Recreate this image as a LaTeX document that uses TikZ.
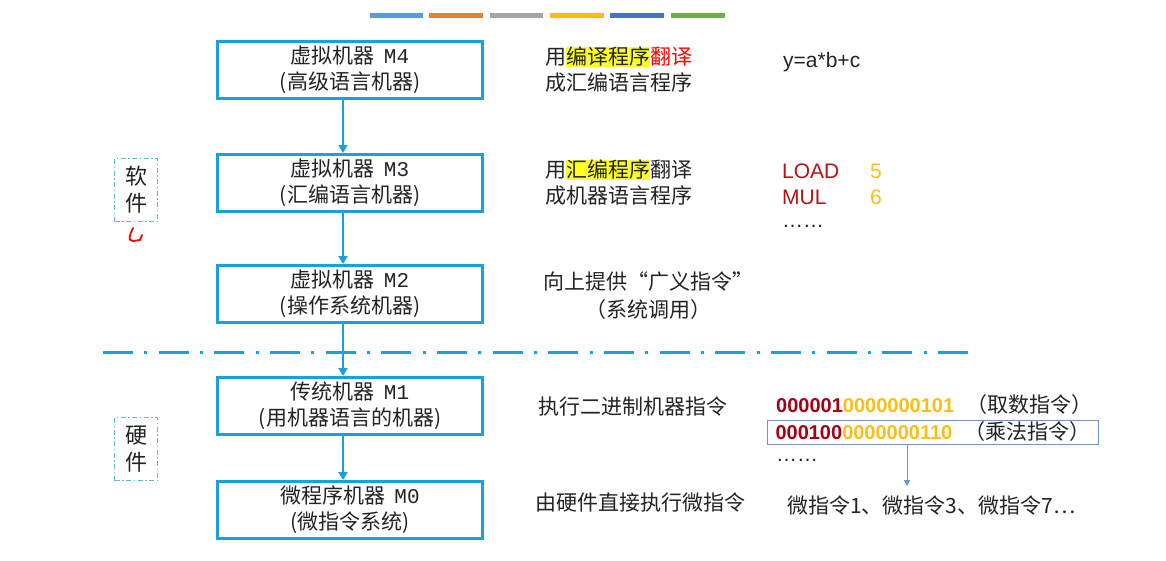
\documentclass[tikz,border=0pt]{standalone}
\usepackage{fontspec}
\usepackage{xcolor}
\usetikzlibrary{arrows.meta}
\setmainfont{Noto Sans CJK SC}
\newfontfamily\arialf{Liberation Sans}
\newfontfamily\monof{Liberation Mono}

\definecolor{boxblue}{RGB}{27,160,222}
\definecolor{sideblue}{RGB}{95,185,220}
\definecolor{framegray}{RGB}{110,150,190}
\definecolor{arrowblue}{RGB}{91,155,213}
\definecolor{darkred}{RGB}{180,20,20}
\definecolor{bitred}{RGB}{165,0,20}
\definecolor{gold}{RGB}{250,190,20}
\definecolor{hlyellow}{RGB}{255,255,40}
\definecolor{txt}{RGB}{35,35,35}
\definecolor{barorange}{RGB}{237,125,49}
\definecolor{bargray}{RGB}{165,165,165}
\definecolor{baryellow}{RGB}{255,192,0}
\definecolor{bardblue}{RGB}{68,114,196}
\definecolor{bargreen}{RGB}{112,173,71}

\newcommand{\hl}[1]{{\setlength{\fboxsep}{0pt}\colorbox{hlyellow}{#1}}}
\newcommand{\bits}[2]{{\fontsize{20}{24}\selectfont\arialf\bfseries\color{bitred}#1\color{gold}#2}}
\newcommand{\mname}[1]{\hspace{9pt}{\monof #1}}

\begin{document}
\begin{tikzpicture}[x=1pt, y=-1pt,
    machine/.style={draw=boxblue, line width=3pt, minimum width=265pt, minimum height=57pt,
      align=center, inner sep=0pt, text=txt, font=\fontsize{21}{26}\selectfont},
    note/.style={inner sep=0pt, text=txt, font=\fontsize{21}{26}\selectfont},
    sidebox/.style={draw=sideblue, line width=1.2pt, dash pattern=on 5pt off 2.5pt on 1.5pt off 2.5pt,
      minimum width=43pt, minimum height=63pt, align=center, inner sep=0pt, text=txt,
      font=\fontsize{22}{27}\selectfont},
    down/.style={draw=boxblue, line width=2.5pt, -{Triangle[width=9pt,length=8pt]}},
    thin arrow/.style={draw=arrowblue, line width=1pt, -{Triangle[width=6pt,length=6pt]}}]
        \useasboundingbox (0,0) rectangle (1166,560);
        % colour bars
        \fill[arrowblue] (370,13) rectangle (423,18);
        \fill[barorange] (429,13) rectangle (483,18);
        \fill[bargray] (490,13) rectangle (543,18);
        \fill[baryellow] (550,13) rectangle (604,18);
        \fill[bardblue] (610,13) rectangle (664,18);
        \fill[bargreen] (671,13) rectangle (725,18);
        % machines
        \node[machine] (m4) at (350,70) {虚拟机器\mname{M4}\\(高级语言机器)};
        \node[machine] (m3) at (350,183) {虚拟机器\mname{M3}\\(汇编语言机器)};
        \node[machine] (m2) at (350,294) {虚拟机器\mname{M2}\\(操作系统机器)};
        \node[machine] (m1) at (350,406) {传统机器\mname{M1}\\(用机器语言的机器)};
        \node[machine] (m0) at (350,510) {微程序机器\mname{M0}\\(微指令系统)};
        \draw[down] ([xshift=-7pt]m4.south) -- ([xshift=-7pt]m3.north);
        \draw[down] ([xshift=-7pt]m3.south) -- ([xshift=-7pt]m2.north);
        \draw[down] ([xshift=-7pt]m2.south) -- ([xshift=-7pt]m1.north);
        \draw[down] ([xshift=-7pt]m1.south) -- ([xshift=-7pt]m0.north);
        % software / hardware
        \draw[boxblue, line width=3pt, dash pattern=on 30pt off 11.33pt on 3pt off 11.33pt] (103,352) -- (968,352);
        \node[sidebox] (soft) at (136,190) {软\\件};
        \node[sidebox] (hard) at (136,449) {硬\\件};
        \draw[red, line width=1.8pt, line cap=round, line join=round]
          (133,228) .. controls (130,234) and (127,241) .. (133,241) -- (140,240) -- (142,235);
        % right column
        \node[note, anchor=west, align=left] (t4) at (545,70) {用\hl{编译程序}{\color{red}翻译}\\成汇编语言程序};
        \node[note, anchor=west, align=left] (t3) at (545,183) {用\hl{汇编程序}翻译\\成机器语言程序};
        \node[note, align=center, font=\fontsize{21}{28}\selectfont] (t2) at (648,296) {向上提供“广义指令”\\（系统调用）};
        \node[note, anchor=west] (t1) at (538,407) {执行二进制机器指令};
        \node[note, anchor=west] (t0) at (535,503) {由硬件直接执行微指令};
        % examples
        \node[note, anchor=west, font=\fontsize{21}{26}\selectfont\arialf] (expr) at (783,62) {y=a*b+c};
        \node[note, anchor=west, font=\fontsize{21}{26}\selectfont\arialf, text=darkred] (ld) at (782,171) {LOAD};
        \node[note, anchor=west, font=\fontsize{21}{26}\selectfont\arialf, text=gold] (ld5) at (870,171) {5};
        \node[note, anchor=west, font=\fontsize{21}{26}\selectfont\arialf, text=darkred] (mu) at (782,197) {MUL};
        \node[note, anchor=west, font=\fontsize{21}{26}\selectfont\arialf, text=gold] (mu6) at (870,197) {6};
        \node[note, anchor=west, font=\fontsize{21}{26}\selectfont\arialf] (dots3) at (782,226) {……};
        \node[note, anchor=west] (load) at (776,405) {\bits{000001}{0000000101}\hspace{12pt}（取数指令）};
        \node[note, anchor=west, draw=framegray, line width=1pt, inner xsep=8pt, inner ysep=2pt] (mul) at (767,432) {\bits{000100}{0000000110}\hspace{12pt}（乘法指令）};
        \node[note, anchor=west, font=\fontsize{21}{26}\selectfont\arialf] (dots1) at (776,460) {……};
        \node[note, anchor=west] (micro) at (787,506) {微指令1、微指令3、微指令7…};
        \coordinate (tip) at (907,486);
        \draw[thin arrow] (mul.south -| tip) -- (tip);
    \end{tikzpicture}
\end{document}
